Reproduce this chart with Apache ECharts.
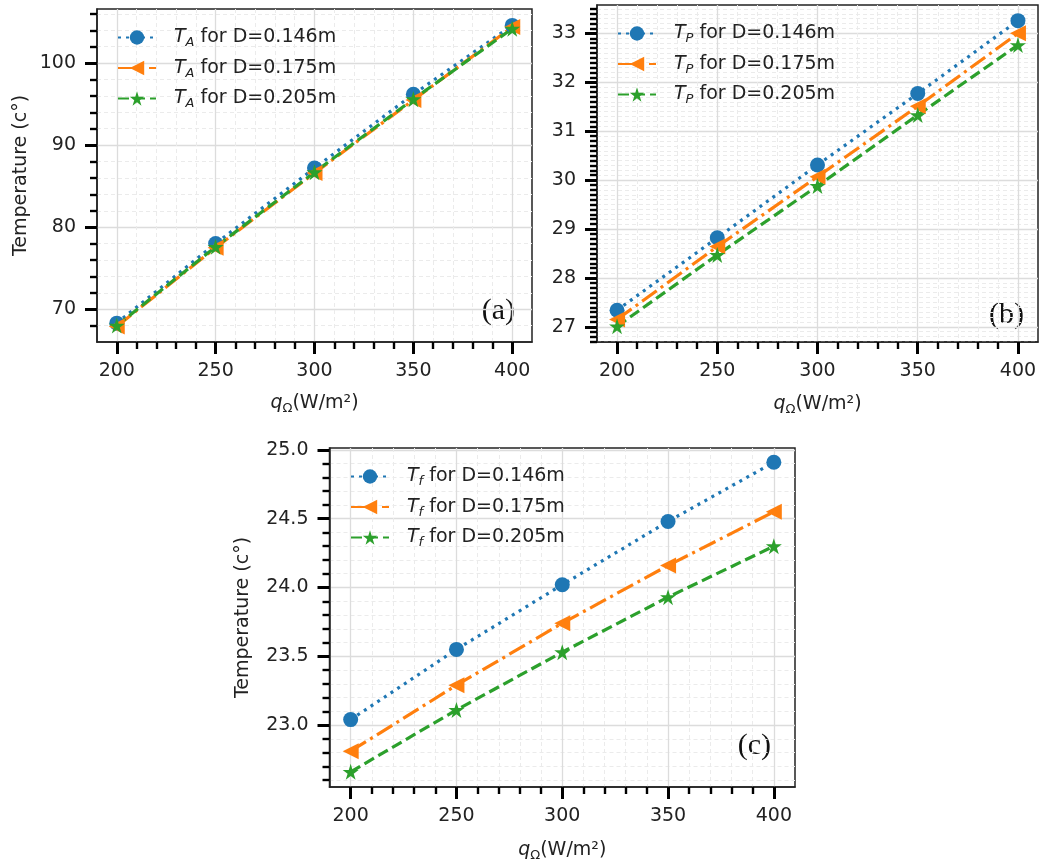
<!DOCTYPE html>
<html><head><meta charset="utf-8">
<script src="https://cdn.jsdelivr.net/npm/echarts@6/dist/echarts.min.js"></script>
<style>html,body{margin:0;padding:0;background:#fff}#c{width:1044px;height:863px}</style>
</head><body><div id="c"></div>
<script>
const qValues = [200, 250, 300, 350, 400];
const diameters = ['0.146', '0.175', '0.205'];
const taD146 = [68.3, 78.0, 87.2, 96.2, 104.6];
const taD175 = [67.9, 77.5, 86.6, 95.5, 104.4];
const taD205 = [68.0, 77.6, 86.7, 95.6, 104.2];
const tpD146 = [27.34, 28.82, 30.31, 31.77, 33.26];
const tpD175 = [27.15, 28.64, 30.07, 31.51, 33.00];
const tpD205 = [27.01, 28.47, 29.88, 31.33, 32.76];
const tfD146 = [23.04, 23.55, 24.02, 24.48, 24.91];
const tfD175 = [22.81, 23.29, 23.74, 24.16, 24.55];
const tfD205 = [22.66, 23.11, 23.53, 23.93, 24.30];
const xTicks = [200, 250, 300, 350, 400];
const yTicksA = [70, 80, 90, 100];
const yTicksB = [27, 28, 29, 30, 31, 32, 33];
const yTicksC = [23.0, 23.5, 24.0, 24.5, 25.0];
const panelLabels = ['(a)', '(b)', '(c)'];
const subs = ['A', 'P', 'f'];

const colors = ['#1f77b4', '#ff7f0e', '#2ca02c'];
const dashes = [[3, 5], [18, 5, 3, 5], [11, 5]];
const symbols = ['circle',
  'path://M0,5 L10,0 L10,10 Z',
  'path://M10,0 L12.245,6.91 L19.51,6.91 L13.633,11.18 L15.878,18.09 L10,13.82 L4.122,18.09 L6.367,11.18 L0.49,6.91 L7.755,6.91 Z'];
const symSizes = [15, 16, 16];
const FONT = 'DejaVu Sans';
const FS = 19;

const grids = [
  {left: 97, top: 9, width: 435, height: 333},
  {left: 597, top: 5, width: 441, height: 337},
  {left: 329.5, top: 448, width: 465.5, height: 340}
];
const yRanges = [[66.0, 106.6], [26.69, 33.58], [22.55, 25.014]];
const yTicks = [yTicksA, yTicksB, yTicksC];
const yMinorSplit = [5, 10, 5];
const yNames = ['Temperature (c°)', '', 'Temperature (c°)'];
const yNameGaps = [66, 0, 77];
const xNameGaps = [49, 50, 51];
const yDec = [0, 0, 1];
const panelData = [[taD146, taD175, taD205], [tpD146, tpD175, tpD205], [tfD146, tfD175, tfD205]];

const richLegend = {
  sp: {width: 13},
  i: {fontStyle: 'italic', fontSize: FS, fontFamily: FONT, color: '#222', lineHeight: 24},
  s: {fontStyle: 'italic', fontSize: 13, fontFamily: FONT, color: '#222', lineHeight: 13, verticalAlign: 'bottom'},
  t: {fontSize: FS, fontFamily: FONT, color: '#222', lineHeight: 24}
};

const xAxes = [], yAxes = [], series = [], legends = [], graphics = [];
grids.forEach((g, p) => {
  xAxes.push({
    type: 'value', gridIndex: p, min: 190, max: 410,
    name: '{q|q}{o|Ω}{t|(W/m²)}', nameLocation: 'middle', nameGap: xNameGaps[p],
    nameTextStyle: {rich: {
      q: {fontStyle: 'italic', fontSize: FS, fontFamily: FONT, color: '#222', lineHeight: 24},
      o: {fontSize: 13, fontFamily: FONT, color: '#222', lineHeight: 13, verticalAlign: 'bottom'},
      t: {fontSize: FS, fontFamily: FONT, color: '#222', lineHeight: 24}
    }},
    axisLine: {show: true, lineStyle: {color: '#222', width: 1.5}},
    axisTick: {show: true, inside: false, length: 12, customValues: xTicks, lineStyle: {color: '#000', width: 3}},
    minorTick: {show: true, splitNumber: 5, length: 7, lineStyle: {color: '#000', width: 2.4}},
    axisLabel: {fontSize: FS, fontFamily: FONT, color: '#222', margin: 20, customValues: xTicks,
      formatter: v => String(v)},
    splitLine: {show: true, lineStyle: {color: '#dcdcdc', width: 1.3}},
    minorSplitLine: {show: true, lineStyle: {color: '#ebebeb', width: 1, type: [4, 3]}}
  });
  yAxes.push({
    type: 'value', gridIndex: p, min: yRanges[p][0], max: yRanges[p][1],
    name: yNames[p], nameLocation: 'middle', nameGap: yNameGaps[p],
    nameTextStyle: {fontSize: FS, fontFamily: FONT, color: '#222'},
    axisLine: {show: true, lineStyle: {color: '#222', width: 1.5}},
    axisTick: {show: true, inside: false, length: 12, customValues: yTicks[p], lineStyle: {color: '#000', width: 3}},
    minorTick: {show: true, splitNumber: yMinorSplit[p], length: 7, lineStyle: {color: '#000', width: 2.4}},
    axisLabel: {fontSize: FS, fontFamily: FONT, color: '#222', margin: 21, customValues: yTicks[p],
      formatter: v => Number(v).toFixed(yDec[p])},
    splitLine: {show: true, lineStyle: {color: '#dcdcdc', width: 1.3}},
    minorSplitLine: {show: true, lineStyle: {color: '#ebebeb', width: 1, type: [4, 3]}}
  });
  const names = [];
  panelData[p].forEach((arr, k) => {
    const nm = 'T' + subs[p] + ' ' + diameters[k];
    names.push(nm);
    series.push({
      type: 'line', name: nm, xAxisIndex: p, yAxisIndex: p,
      data: qValues.map((q, i) => [q, arr[i]]),
      symbol: symbols[k], symbolSize: symSizes[k], showSymbol: true,
      itemStyle: {color: colors[k]},
      lineStyle: {color: colors[k], width: 3.2, type: dashes[k]},
      emphasis: {disabled: true}, animation: false
    });
  });
  const lpos = [{left: 112, top: 23}, {left: 612, top: 19}, {left: 345, top: 462}][p];
  legends.push({
    data: names, orient: 'vertical', left: lpos.left, top: lpos.top,
    itemWidth: 38, itemHeight: 18, itemGap: 9,
    textStyle: {rich: richLegend},
    formatter: n => {
      const d = n.split(' ')[1];
      return '{sp|}{i|T}{s|' + subs[p] + '}{t| for D=' + d + 'm}';
    }
  });
  const lab = [{x: 515, y: 313}, {x: 1024, y: 317}, {x: 771, y: 748}][p];
  graphics.push({type: 'text', right: 1044 - lab.x, top: lab.y - 17,
    style: {text: panelLabels[p], font: '30px "Liberation Serif", "Times New Roman", serif', fill: '#111'}});
});

const chart = echarts.init(document.getElementById('c'), null, {renderer: 'canvas'});
chart.setOption({
  animation: false,
  backgroundColor: '#fff',
  grid: grids.map(g => Object.assign({show: true, borderColor: '#222', borderWidth: 1.5, backgroundColor: 'transparent'}, g)),
  xAxis: xAxes, yAxis: yAxes, series: series, legend: legends, graphic: graphics
});
</script></body></html>
